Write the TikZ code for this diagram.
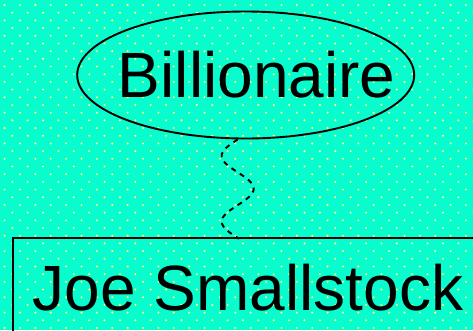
\documentclass[tikz,border=0pt]{standalone}
\usepackage{fontspec}
\setmainfont{Liberation Sans}
\usetikzlibrary{shapes.geometric}
\definecolor{bgc}{RGB}{8,252,206}
\definecolor{dotc}{RGB}{250,255,110}
\tikzset{
  bigtext/.style={font=\fontsize{64}{70}\selectfont},
  dotmark/.style={fill=dotc},
  outline/.style={draw=black, line width=1.9pt},
  snakeline/.style={draw=black, line width=1.9pt, dash pattern=on 5pt off 5pt}
}
\begin{document}
\begin{tikzpicture}[x=1pt,y=1pt]
\useasboundingbox (0,0) rectangle (473,-330);
\clip (0,0) rectangle (473,-330);
\fill[bgc] (0,0) rectangle (473,-330);
\foreach \j in {0,...,43} {
  \pgfmathsetmacro\off{mod(\j,2)}
  \foreach \k in {0,...,31} {
    \fill[dotmark] ({4.6+7.69*(\off+2*\k)},{-(5+7.69*\j)}) circle (1.15);
  }
}
\node[ellipse, outline, bigtext, minimum width=337pt, minimum height=127pt,
  inner sep=0pt, text height=45.5pt, text depth=0pt] (bill) at (245.7,-75)
  {\makebox[0pt]{\hspace*{22pt}Billionaire}};
\node[rectangle, outline, bigtext, anchor=north west, inner xsep=20pt, inner ysep=0pt,
  text height=73pt, text depth=40pt] (joe) at (12,-237)
  {Joe Smallstock\hspace*{30pt}};
\coordinate (s) at ([xshift=-8pt]bill.south);
\coordinate (e) at ([xshift=-8pt]bill.south |- joe.north);
\draw[snakeline, shift={(s)}] plot[domain=0:98.5, samples=80, smooth]
  ({-16*sin(\x/65.67*360)}, {-\x}) -- (e);
\end{tikzpicture}
\end{document}
